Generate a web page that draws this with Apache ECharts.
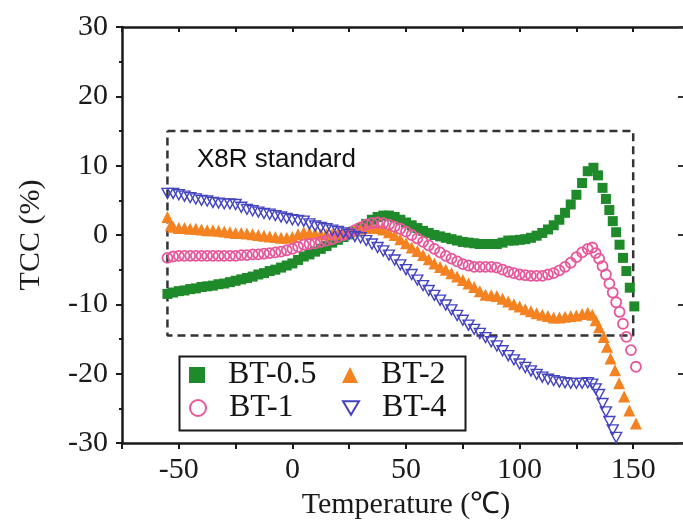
<!DOCTYPE html>
<html>
<head>
<meta charset="utf-8">
<script src="https://cdn.jsdelivr.net/npm/echarts@6/dist/echarts.min.js"></script>
<style>
html,body{margin:0;padding:0;background:#fff;}
#chart{width:683px;height:524px;}
</style>
</head>
<body>
<div id="chart"></div>
<script>
// Temperatures (°C) of the dense measurement band, shared by all series
const temps = [-55,-52.5,-50,-47.5,-45,-42.5,-40,-37.5,-35,-32.5,-30,-27.5,-25,-22.5,-20,-17.5,-15,-12.5,-10,-7.5,-5,-2.5,0,2.5,5,7.5,10,12.5,15,17.5,20,22.5,25,27.5,30,32.5,35,37.5,40,42.5,45,47.5,50,52.5,55,57.5,60,62.5,65,67.5,70,72.5,75,77.5,80,82.5,85,87.5,90,92.5,95,97.5,100,102.5,105,107.5,110,112.5,115,117.5,120,122.5,125,127.5,130];

// TCC (%) values
const bt05 = [-8.5,-8.3,-8.1,-8.0,-7.8,-7.7,-7.5,-7.4,-7.3,-7.1,
  -7.0,-6.8,-6.6,-6.4,-6.2,-6.0,-5.7,-5.5,-5.2,-5.0,
  -4.7,-4.4,-4.1,-3.6,-3.1,-2.8,-2.4,-2.0,-1.6,-1.1,
  -0.7,-0.3,0.1,0.5,1.0,1.6,2.2,2.6,2.8,2.8,
  2.6,2.2,1.8,1.4,1.0,0.6,0.3,0.0,-0.2,-0.4,
  -0.6,-0.8,-1.0,-1.1,-1.2,-1.3,-1.3,-1.3,-1.3,-1.1,
  -0.8,-0.8,-0.7,-0.6,-0.4,-0.1,0.3,0.8,1.4,2.2,
  3.2,4.4,5.8,7.5,9.2];
const bt05TailT = [132.5,134.5,136.5,138,139.5,141,142.5,144,145.5,147,148.5,150.5];
const bt05TailV = [9.7,8.6,6.8,5.2,3.6,2.0,0.4,-1.4,-3.3,-5.2,-7.6,-10.3];

const bt1 = [-3.3,-3.1,-3.0,-3.0,-3.0,-3.0,-3.0,-3.0,-3.0,-3.0,
  -3.0,-3.0,-3.0,-2.9,-2.9,-2.8,-2.8,-2.7,-2.6,-2.5,
  -2.4,-2.2,-2.0,-1.7,-1.4,-1.3,-1.2,-1.0,-0.8,-0.6,
  -0.3,0.0,0.3,0.7,1.1,1.5,1.7,1.8,1.7,1.5,
  1.2,0.9,0.5,0.0,-0.5,-1.0,-1.5,-2.0,-2.5,-3.0,
  -3.4,-3.8,-4.2,-4.4,-4.6,-4.6,-4.6,-4.6,-4.7,-5.0,
  -5.3,-5.5,-5.7,-5.8,-5.9,-5.9,-5.9,-5.7,-5.5,-5.1,
  -4.6,-4.0,-3.2,-2.5,-2.0];
const bt1TailT = [132,133.5,135,136.5,138,139.5,141,142.5,144,145.5,147,149,151.2];
const bt1TailV = [-1.8,-2.6,-3.4,-4.5,-5.7,-7.0,-8.3,-9.7,-11.1,-12.8,-14.7,-16.6,-19.0];

const bt2 = [2.6,1.2,1.0,1.0,0.9,0.9,0.8,0.7,0.7,0.6,
  0.5,0.4,0.3,0.3,0.2,0.1,0.0,-0.1,-0.2,-0.3,
  -0.4,-0.4,-0.3,0.1,0.4,0.3,0.2,0.1,0.1,0.1,
  0.2,0.3,0.5,0.7,0.9,1.0,1.1,1.0,0.8,0.4,
  0.0,-0.6,-1.2,-1.8,-2.3,-2.9,-3.5,-4.1,-4.6,-5.0,
  -5.5,-6.0,-6.5,-7.0,-7.5,-8.1,-8.6,-8.7,-8.8,-9.2,
  -9.6,-10.0,-10.3,-10.7,-11.0,-11.3,-11.5,-11.7,-11.9,-11.9,
  -11.8,-11.7,-11.6,-11.4,-11.2];
const bt2TailT = [-53.5,132,133.5,135,137,138.5,140,142,143.8,146,148.3,151.2];
const bt2TailV = [1.4,-11.5,-12.3,-13.3,-14.7,-16.1,-17.8,-19.5,-21.4,-23.3,-25.3,-27.2];

const bt4 = [6.0,6.0,5.8,5.6,5.4,5.2,5.0,4.9,4.7,4.6,
  4.5,4.5,4.4,4.0,3.7,3.5,3.3,3.1,3.0,2.8,
  2.6,2.4,2.2,2.1,2.0,1.6,1.3,1.1,0.9,0.7,
  0.5,0.3,0.1,-0.2,-0.4,-0.8,-1.3,-1.8,-2.3,-2.9,
  -3.6,-4.3,-5.0,-5.7,-6.5,-7.3,-8.0,-8.7,-9.4,-10.1,
  -10.8,-11.6,-12.3,-13.0,-13.6,-14.2,-14.8,-15.4,-16.0,-16.7,
  -17.4,-18.0,-18.6,-19.1,-19.6,-20.1,-20.5,-20.8,-21.0,-21.2,
  -21.3,-21.4,-21.4,-21.4,-21.3];
const bt4TailT = [132,133.5,135,136.5,138,139.5,141,142.5];
const bt4TailV = [-21.5,-22.2,-23.0,-24.3,-25.5,-26.9,-28.1,-29.2];

// X8R standard window
const boxT = [-55, 150];
const boxV = [-14.5, 15];

function pairs(ts, vs){ return ts.map((t,i)=>[t, vs[i]]); }

const serif = 'Liberation Serif';
const ink = '#1a1a1a';
const chart = echarts.init(document.getElementById('chart'), null, {renderer:'canvas'});

const legendBase = {
  orient:'horizontal', padding:0, itemWidth:16, itemHeight:16, z:10,
  textStyle:{fontFamily:serif, fontSize:32, color:'#151515', lineHeight:34, padding:[0,0,0,18]}
};

const downTri = 'path://M0,0 L20,0 L10,17 Z';

chart.setOption({
  animation:false,
  backgroundColor:'#fff',
  grid:{left:122, right:-7, top:27, bottom:81, outerBoundsMode:'none'},
  xAxis:[{
    type:'value', min:-75, max:175, interval:25,
    axisLine:{show:true, onZero:false, lineStyle:{color:ink, width:2.5}},
    axisTick:{show:true, inside:false, length:6, lineStyle:{color:ink, width:2}},
    splitLine:{show:false},
    axisLabel:{fontFamily:serif, fontSize:30, color:ink, margin:12,
      formatter:v => (v % 50 === 0 && v > -75 && v < 175) ? String(v) : ''},
    name:'Temperature (℃)', nameLocation:'middle', nameGap:46,
    nameTextStyle:{fontFamily:serif, fontSize:30, color:ink}
  },{
    type:'value', position:'top', min:-75, max:175, interval:25,
    axisLine:{show:true, onZero:false, lineStyle:{color:ink, width:2.5}},
    axisTick:{show:true, inside:true, length:5, lineStyle:{color:ink, width:2}},
    axisLabel:{show:false}, splitLine:{show:false}
  }],
  yAxis:[{
    type:'value', min:-30, max:30, interval:10,
    axisLine:{show:true, onZero:false, lineStyle:{color:ink, width:2.5}},
    axisTick:{show:true, inside:false, length:6, lineStyle:{color:ink, width:2}},
    minorTick:{show:true, splitNumber:2, length:3, lineStyle:{color:ink, width:2}},
    splitLine:{show:false},
    axisLabel:{fontFamily:serif, fontSize:30, color:ink, margin:14},
    name:'TCC (%)', nameLocation:'middle', nameGap:76,
    nameTextStyle:{fontFamily:serif, fontSize:30, color:ink}
  },{
    type:'value', position:'right', min:-30, max:30, interval:10,
    axisLine:{show:true, onZero:false, lineStyle:{color:ink, width:2.5}},
    axisTick:{show:true, inside:true, length:12, lineStyle:{color:'#333', width:2}},
    axisLabel:{show:false}, splitLine:{show:false}
  }],
  legend:[
    Object.assign({}, legendBase, {data:['BT-0.5'], left:189, top:358}),
    Object.assign({}, legendBase, {data:['BT-2'], left:342, top:358}),
    Object.assign({}, legendBase, {data:['BT-1'], left:189, top:391}),
    Object.assign({}, legendBase, {data:['BT-4'], left:342, top:391})
  ],
  graphic:[
    {type:'rect', left:177, top:354, z:0,
     shape:{width:286, height:74}, style:{fill:'none', stroke:ink, lineWidth:2}},
    {type:'text', left:197, top:147, z:5,
     style:{text:'X8R standard', fontFamily:'Liberation Sans', fontSize:26, fill:'#111'}}
  ],
  series:[
    {name:'box', type:'line', silent:true, symbol:'none', z:1,
     data:[[boxT[0],boxV[1]],[boxT[1],boxV[1]],[boxT[1],boxV[0]],[boxT[0],boxV[0]],[boxT[0],boxV[1]]],
     lineStyle:{color:'#333', width:2.5, type:[8,5]}},
    {name:'BT-0.5', type:'scatter', symbol:'rect', symbolSize:10, z:2,
     data:pairs(temps, bt05).concat(pairs(bt05TailT, bt05TailV)),
     itemStyle:{color:'#1f8a2a', opacity:1}},
    {name:'BT-2', type:'scatter', symbol:'triangle', symbolSize:12, z:3,
     data:pairs(temps, bt2).concat(pairs(bt2TailT, bt2TailV)),
     itemStyle:{color:'#f58220', opacity:1}},
    {name:'BT-1', type:'scatter', symbol:'circle', symbolSize:10, z:4,
     data:pairs(temps, bt1).concat(pairs(bt1TailT, bt1TailV)),
     itemStyle:{color:'rgba(255,255,255,0)', borderColor:'#e8579b', borderWidth:1.8, opacity:1}},
    {name:'BT-4', type:'scatter', symbol:downTri, symbolSize:[11,10], z:5,
     data:pairs(temps, bt4).concat(pairs(bt4TailT, bt4TailV)),
     itemStyle:{color:'rgba(255,255,255,0)', borderColor:'#4444c0', borderWidth:1.4, opacity:1}}
  ]
});
</script>
</body>
</html>
